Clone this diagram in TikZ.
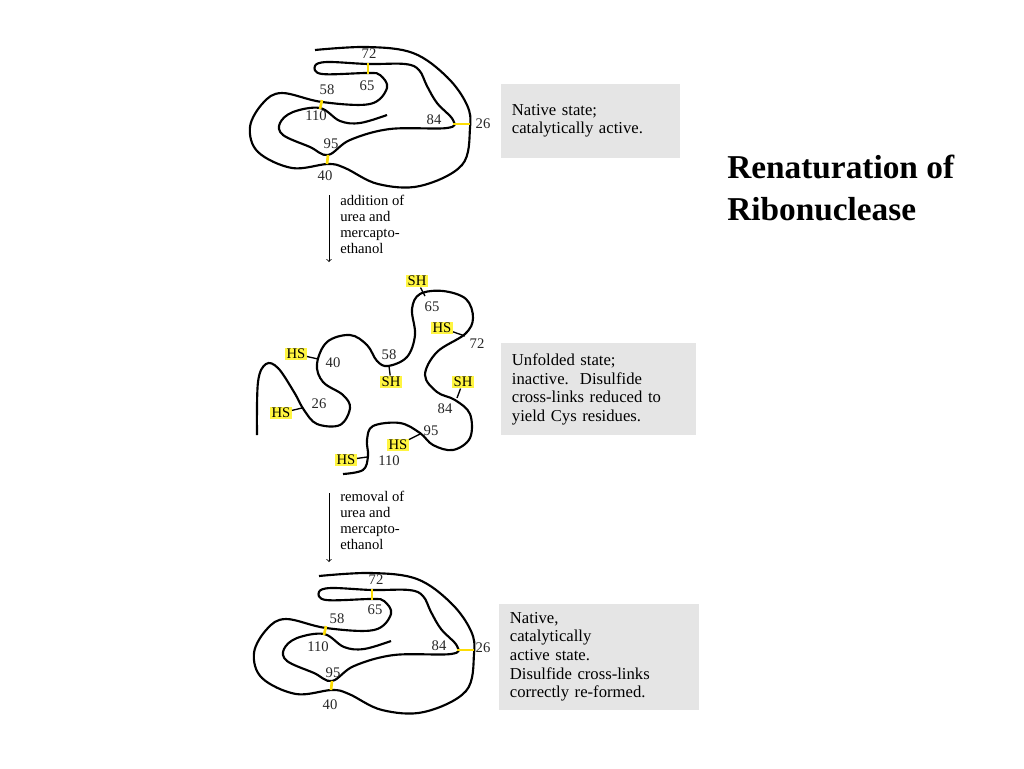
\documentclass[tikz,border=0pt]{standalone}
\usepackage{fontspec}
\setmainfont{Liberation Serif}
\begin{document}
\begin{tikzpicture}[x=0.75pt,y=-0.75pt,
  chain/.style={line width=1.6pt,line join=round},
  ss/.style={draw=yellow!80!orange,line width=2pt},
  tick/.style={line width=1pt},
  num/.style={font=\fontsize{11}{12}\selectfont,text=black!85,inner sep=0pt},
  shl/.style={font=\fontsize{11}{12}\selectfont,fill=yellow!75,inner sep=1pt},
  box/.style={fill=black!10,anchor=north west,align=left,font=\fontsize{12.5}{14}\selectfont,inner xsep=8pt,inner ysep=6pt},
  lbl/.style={anchor=north west,align=left,font=\fontsize{11}{12}\selectfont,inner sep=0pt}]
\useasboundingbox (0,0) rectangle (1024,768);
\newcommand{\nativefold}{%
  \draw[chain] plot[smooth,tension=0.6] coordinates {(315,50) (367,47) (413,53) (447,77) (467,105) (470,128) (462,165) (420,186) (378,184) (345,168) (328,164) (292,168) (258,152) (250,127) (263,103) (282,93) (322,102) (370,104) (387,88) (380,75) (368,73) (322,74) (315,66) (327,62) (368,64) (405,64) (419,70) (427,86) (437,103) (453,120) (447,128) (390,129) (350,140) (328,155) (310,147) (283,135) (280,123) (293,112) (320,108) (340,121) (360,123) (387,115)};
  \draw[ss] (368,63) -- (368,74);
  \draw[ss] (322,100) -- (320,109);
  \draw[ss] (453,124) -- (470,124);
  \draw[ss] (328,155) -- (327,164);
}
% top
\nativefold
\node[num] (t72) at (369,54) {72};
\node[num] (t65) at (367,86) {65};
\node[num] (t58) at (327,90) {58};
\node[num] (t110) at (316,116) {110};
\node[num] (t84) at (434,120) {84};
\node[num] (t26) at (483,124) {26};
\node[num] (t95) at (331,144) {95};
\node[num] (t40) at (325,176) {40};
\node[box,text width=118pt,minimum height=55pt] (b1) at (501,84) {Native state;\\catalytically active.};
% arrow 1
\coordinate (a1s) at (329,195); \coordinate (a1e) at (329,262);
\draw[->,line width=0.6pt] (a1s) -- (a1e);
\node[lbl] (l1) at (340,195) {addition of\\urea and\\mercapto-\\ethanol};
% middle
\draw[chain] plot[smooth,tension=0.6] coordinates {(257,435) (258,382) (266,364) (278,368) (294,392) (304,410) (317,424) (340,425) (350,408) (343,395) (323,382) (317,364) (327,342) (350,335) (367,345) (377,361) (388,366) (407,357) (415,335) (412,309) (420,294) (443,291) (466,299) (473,318) (465,334) (437,352) (425,375) (437,392) (455,400) (470,414) (470,438) (453,450) (433,445) (420,433) (400,423) (373,426) (367,440) (368,456) (363,470) (343,474)};
\node[shl] (sh65) at (417,281) {SH}; \draw[tick] (sh65) -- (425,296);
\node[shl] (hs72) at (442,328) {HS}; \draw[tick] (hs72) -- (465,336);
\node[shl] (sh84) at (463,382) {SH}; \draw[tick] (sh84) -- (457,398);
\node[shl] (hs95) at (398,445) {HS}; \draw[tick] (hs95) -- (420,434);
\node[shl] (hs110) at (346,460) {HS}; \draw[tick] (hs110) -- (367,457);
\node[shl] (hs26) at (281,413) {HS}; \draw[tick] (hs26) -- (302,408);
\node[shl] (hs40) at (296,354) {HS}; \draw[tick] (hs40) -- (318,359);
\node[shl] (sh58) at (391,382) {SH}; \draw[tick] (sh58) -- (389,366);
\node[num] (m65) at (432,307) {65};
\node[num] (m72) at (477,344) {72};
\node[num] (m84) at (445,409) {84};
\node[num] (m95) at (431,431) {95};
\node[num] (m110) at (389,461) {110};
\node[num] (m26) at (319,404) {26};
\node[num] (m40) at (333,363) {40};
\node[num] (m58) at (389,355) {58};
\node[box,text width=130pt,minimum height=69pt] (b2) at (501,343) {Unfolded state;\\inactive.\ \ Disulfide\\cross-links reduced to\\yield Cys residues.};
% arrow 2
\coordinate (a2s) at (329,493); \coordinate (a2e) at (329,562);
\draw[->,line width=0.6pt] (a2s) -- (a2e);
\node[lbl] (l2) at (340,491) {removal of\\urea and\\mercapto-\\ethanol};
% bottom
\begin{scope}[shift={(4,526)}]
\nativefold
\end{scope}
\node[num] (u72) at (376,580) {72};
\node[num] (u65) at (375,610) {65};
\node[num] (u58) at (337,619) {58};
\node[num] (u110) at (318,647) {110};
\node[num] (u84) at (439,646) {84};
\node[num] (u26) at (483,648) {26};
\node[num] (u95) at (333,673) {95};
\node[num] (u40) at (330,705) {40};
\node[box,text width=134pt,minimum height=77pt] (b3) at (499,604) {Native,\\catalytically\\active state.\\Disulfide cross-links\\correctly re-formed.};
% title
\node[anchor=north west,align=left,font=\fontsize{25}{31}\bfseries\selectfont,inner sep=0pt] (title) at (727,155) {Renaturation of\\Ribonuclease};
\end{tikzpicture}
\end{document}
